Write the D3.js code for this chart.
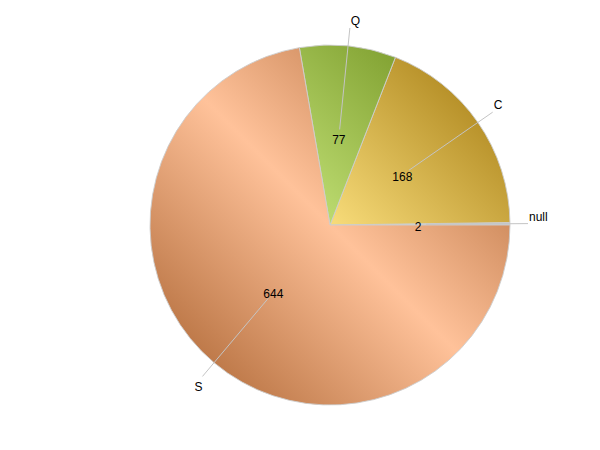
<!DOCTYPE html>
<html>
<head>
<meta charset="utf-8">
<script src="https://cdn.jsdelivr.net/npm/d3@7"></script>
<style>
  html, body { margin: 0; padding: 0; background: #fff; }
  svg { display: block; }
  text { font-family: "Liberation Sans", Arial, sans-serif; font-size: 12px; fill: #000; }
</style>
</head>
<body>
<svg id="chart" width="600" height="450"></svg>
<script>
const categories = ["null", "C", "Q", "S"];
const values = [2, 168, 77, 644];
const lightColors = ["#d4dde4", "#f8dc7a", "#bcdb70", "#ffc29a"];
const darkColors  = ["#b8c4cc", "#b8922a", "#7e9e2e", "#bf7a4a"];

const W = 600, H = 450;
const cx = 330, cy = 225, R = 180;

const svg = d3.select("#chart");
const defs = svg.append("defs");

// pie counterclockwise from 3 o'clock
const pie = d3.pie()
  .value(d => d)
  .sort(null)
  .startAngle(Math.PI / 2)
  .endAngle(Math.PI / 2 - 2 * Math.PI);

const arcs = pie(values);
const arc = d3.arc().innerRadius(0).outerRadius(R);

const g = svg.append("g").attr("transform", `translate(${cx},${cy})`);

const d45 = R * Math.SQRT1_2;
categories.forEach((c, i) => {
  const grad = defs.append("linearGradient")
    .attr("id", "grad" + i)
    .attr("gradientUnits", "userSpaceOnUse")
    .attr("x1", -d45).attr("y1", d45)
    .attr("x2", d45).attr("y2", -d45);
  grad.append("stop").attr("offset", "0").attr("stop-color", darkColors[i]);
  grad.append("stop").attr("offset", "0.5").attr("stop-color", lightColors[i]);
  grad.append("stop").attr("offset", "1").attr("stop-color", darkColors[i]);
});

g.selectAll("path.slice")
  .data(arcs)
  .enter().append("path")
  .attr("class", "slice")
  .attr("d", arc)
  .attr("fill", (d, i) => `url(#grad${i})`)
  .attr("stroke", "rgba(205,205,205,0.9)")
  .attr("stroke-width", 1);

// mid angle in screen (d3 angle: 0 = 12 o'clock, clockwise)
function pt(d, r) {
  const a = (d.startAngle + d.endAngle) / 2;
  return [r * Math.sin(a), -r * Math.cos(a)];
}

const rIn = 88, rLineStart = 96, rLineEnd = 198;

// leader lines
g.selectAll("line.leader")
  .data(arcs)
  .enter().append("line")
  .attr("class", "leader")
  .attr("x1", d => pt(d, rLineStart)[0])
  .attr("y1", d => pt(d, rLineStart)[1])
  .attr("x2", d => pt(d, rLineEnd)[0])
  .attr("y2", d => pt(d, rLineEnd)[1])
  .attr("stroke", "#c4c4c4")
  .attr("stroke-width", 1);

// value labels
g.selectAll("text.val")
  .data(arcs)
  .enter().append("text")
  .attr("class", "val")
  .attr("x", d => pt(d, rIn)[0])
  .attr("y", d => pt(d, rIn)[1] + 3)
  .attr("text-anchor", "middle")
  .attr("dominant-baseline", "middle")
  .text(d => d.data);

// category labels
g.selectAll("text.cat")
  .data(arcs)
  .enter().append("text")
  .attr("class", "cat")
  .attr("x", d => { const p = pt(d, rLineEnd); return p[0] >= 0 ? p[0] + 1 : p[0]; })
  .attr("y", d => { const p = pt(d, rLineEnd); return p[1] <= 0 ? p[1] - 6 : p[1] + 11; })
  .attr("text-anchor", d => pt(d, rLineEnd)[0] >= 0 ? "start" : "end")
  .attr("dominant-baseline", "middle")
  .text((d, i) => categories[i]);
</script>
</body>
</html>
